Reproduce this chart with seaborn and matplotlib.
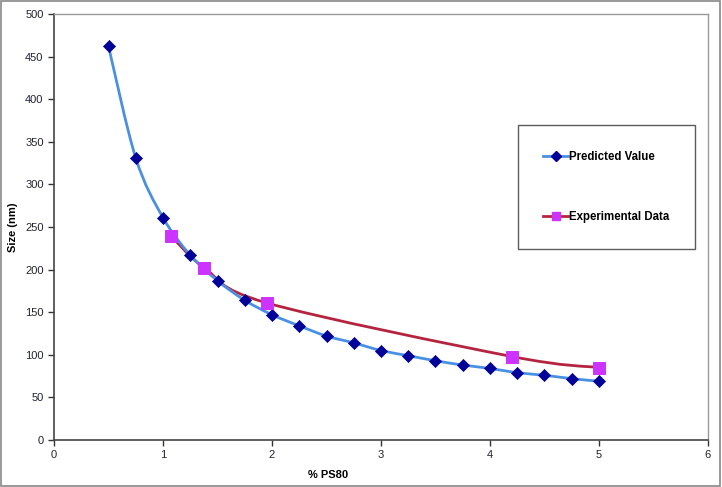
import numpy as np
import pandas as pd
import seaborn as sns
import matplotlib.pyplot as plt
from matplotlib.path import Path
from matplotlib.patches import PathPatch, Rectangle
from matplotlib.lines import Line2D

# data
pred_x = [0.5, 0.75, 1.0, 1.25, 1.5, 1.75, 2.0, 2.25, 2.5, 2.75, 3.0,
          3.25, 3.5, 3.75, 4.0, 4.25, 4.5, 4.75, 5.0]
pred_y = [462, 331, 261, 217, 187, 164, 147, 134, 122, 114, 105,
          99, 93, 88, 84, 79, 76, 72, 69]
exp_x = [1.07, 1.38, 1.95, 4.2, 5.0]
exp_y = [240, 202, 161, 98, 85]

pred = pd.DataFrame({'x': pred_x, 'y': pred_y})
expd = pd.DataFrame({'x': exp_x, 'y': exp_y})


def smooth_path(xs, ys):
    # Catmull-Rom style bezier, like Excel's smoothed line
    p = np.column_stack([xs, ys]).astype(float)
    n = len(p)
    verts = [p[0]]
    codes = [Path.MOVETO]
    for i in range(n - 1):
        p0 = p[i - 1] if i > 0 else p[i]
        p3 = p[i + 2] if i + 2 < n else p[i + 1]
        c1 = p[i] + (p[i + 1] - p0) / 6
        c2 = p[i + 1] - (p3 - p[i]) / 6
        verts += [c1, c2, p[i + 1]]
        codes += [Path.CURVE4] * 3
    return Path(verts, codes)


plt.rcParams['font.family'] = ['Liberation Sans', 'DejaVu Sans']
fig = plt.figure(figsize=(7.22, 4.87), dpi=100)
ax = fig.add_axes([0.0748, 0.0965, 0.9058, 0.8748])

blue_line = '#4a90e2'
navy = '#000099'
red_line = '#b5243f'
magenta = '#cc33ff'

ax.add_patch(PathPatch(smooth_path(exp_x, exp_y), facecolor='none',
                       edgecolor=red_line, lw=2, zorder=2))
ax.add_patch(PathPatch(smooth_path(pred_x, pred_y), facecolor='none',
                       edgecolor=blue_line, lw=2, zorder=2))

sns.scatterplot(data=pred, x='x', y='y', marker='D', s=38, color=navy,
                edgecolor=navy, ax=ax, zorder=3)
sns.scatterplot(data=expd, x='x', y='y', marker='s', s=75, color=magenta,
                edgecolor=magenta, ax=ax, zorder=4)

ax.set_xlim(0, 6)
ax.set_ylim(0, 500)
ax.set_xticks(range(0, 7))
ax.set_yticks(range(0, 501, 50))
ax.tick_params(direction='out', length=4, width=1, labelsize=8,
               colors='#333333', labelcolor='#222233')

for s in ['left', 'bottom']:
    ax.spines[s].set_color('#444444')
    ax.spines[s].set_linewidth(1.2)
for s in ['top', 'right']:
    ax.spines[s].set_color('#999999')
    ax.spines[s].set_linewidth(1)

ax.set_xlabel('% PS80', fontsize=8, fontweight='bold')
ax.set_ylabel('Size (nm)', fontsize=8, fontweight='bold')
ax.xaxis.set_label_coords(0.419, -0.07)
ax.yaxis.set_label_coords(-0.055, 0.5)

handles = [
    Line2D([], [], color=blue_line, lw=2, marker='D', markersize=5,
           markerfacecolor=navy, markeredgecolor=navy),
    Line2D([], [], color=red_line, lw=2, marker='s', markersize=6,
           markerfacecolor=magenta, markeredgecolor=magenta),
]
leg = ax.legend(handles, ['Predicted Value', 'Experimental Data'],
                loc='upper left', bbox_to_anchor=(0.7, 0.752),
                frameon=True, fancybox=False, labelspacing=4.2,
                handlelength=2.2, handletextpad=0.1, borderpad=2.2,
                prop={'size': 8.3, 'weight': 'bold'})
leg.get_frame().set_edgecolor('#333333')
leg.get_frame().set_linewidth(1)

fig.patches.append(Rectangle((0.002, 0.003), 0.995, 0.994, transform=fig.transFigure,
                             fill=False, edgecolor='#888888', lw=1.2))

fig.savefig('out.png', dpi=100)
